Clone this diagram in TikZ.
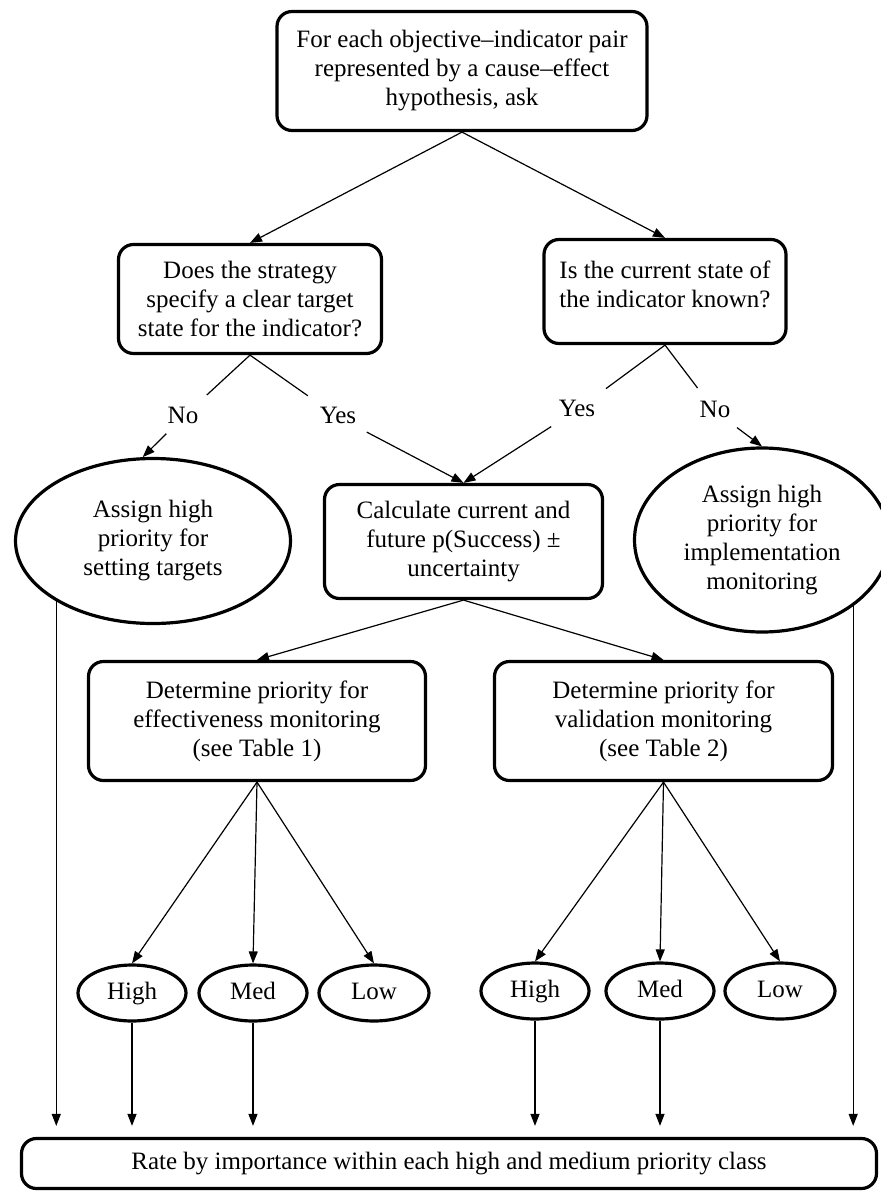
\documentclass[tikz,border=0pt]{standalone}
\usepackage{fontspec}
\setmainfont{Liberation Serif}
\usetikzlibrary{arrows.meta,shapes.geometric}
\begin{document}
\begin{tikzpicture}[x=1pt,y=-1pt,line width=1.2pt,
    font=\fontsize{25}{29}\selectfont,
    >={Triangle[length=12pt,width=9pt]},
    qbox/.style={draw, rounded corners=15pt, line width=3.2pt, align=center, inner sep=0pt},
    oval/.style={draw, ellipse, line width=3.2pt, align=center, inner sep=0pt},
    class/.style={oval, minimum width=108, minimum height=56, text height=17pt, text depth=5pt},
    answer/.style={inner xsep=10pt, inner ysep=5pt, text height=17pt, text depth=5pt}]
    \useasboundingbox (0,0) rectangle (881,1192);
    % questions
    \node (ask) at (462,71) [qbox, minimum width=370, minimum height=119]
    {For each objective--indicator pair\\represented by a cause--effect\\hypothesis, ask};
    \node (target) at (250,299) [qbox, minimum width=263, minimum height=109]
    {Does the strategy\\specify a clear target\\state for the indicator?};
    \node (state) at (665,291.5) [qbox, minimum width=242, minimum height=104]
    {Is the current state of\\the indicator known?\\[-14pt]\mbox{}};
    \draw[->] (ask.south) -- (target.north);
    \draw[->] (ask.south) -- (state.north);
    % answers
    \node (no1) at (183,417) [answer] {No};
    \node (yes1) at (338,417) [answer] {Yes};
    \node (yes2) at (577,410) [answer] {Yes};
    \node (no2) at (715,411) [answer] {No};
    \node (setl) at (153,541) [oval, minimum width=275, minimum height=165]
    {Assign high\\priority for\\setting targets};
    \node (calc) at (463.5,541.5) [qbox, minimum width=278, minimum height=114]
    {Calculate current and\\future p(Success) ±\\uncertainty};
    \node (setr) at (762,540) [oval, minimum width=255, minimum height=184]
    {Assign high\\priority for\\implementation\\monitoring};
    \draw[shorten >=8pt] (target.south) -- (no1); \draw[->] (no1) -- (setl.97);
    \draw[shorten >=8pt] (target.south) -- (yes1); \draw[->] (yes1) -- (calc.north);
    \draw[shorten >=8pt] (state.south) -- (yes2); \draw[->] (yes2) -- (calc.north);
    \draw[shorten >=8pt] (state.south) -- (no2); \draw[->] (no2) -- (setr.north);
    % priority tables
    \node (eff) at (257,721) [qbox, minimum width=337, minimum height=119]
    {Determine priority for\\effectiveness monitoring\\(see Table 1)};
    \node (val) at (663.5,721) [qbox, minimum width=338, minimum height=119]
    {Determine priority for\\validation monitoring\\(see Table 2)};
    \draw[->] (calc.south) -- (eff.north);
    \draw[->] (calc.south) -- (val.north);
    \node (effhigh) at (132,993) [class] {High};
    \node (effmed) at (253,993) [class] {Med};
    \node (efflow) at (374,993) [class, minimum width=110] {Low};
    \node (valhigh) at (535,991) [class] {High};
    \node (valmed) at (660,991) [class] {Med};
    \node (vallow) at (780,991) [class, minimum width=110] {Low};
    \draw[->] (eff.south) -- (effhigh.north);
    \draw[->] (eff.south) -- (effmed.north);
    \draw[->] (eff.south) -- (efflow.north);
    \draw[->] (val.south) -- (valhigh.north);
    \draw[->] (val.south) -- (valmed.north);
    \draw[->] (val.south) -- (vallow.north);
    % rating
    \node (rate) at (449,1163.5) [qbox, minimum width=855, minimum height=50]
    {Rate by importance within each high and medium priority class};
    \draw[->, shorten >=11pt] (setl.212) -- (setl.212 |- rate.north);
    \draw[->, shorten >=11pt] (effhigh.south) -- (effhigh.south |- rate.north);
    \draw[->, shorten >=11pt] (effmed.south) -- (effmed.south |- rate.north);
    \draw[->, shorten >=11pt] (valhigh.south) -- (valhigh.south |- rate.north);
    \draw[->, shorten >=11pt] (valmed.south) -- (valmed.south |- rate.north);
    \draw[->, shorten >=11pt] (setr.324) -- (setr.324 |- rate.north);
\end{tikzpicture}
\end{document}
